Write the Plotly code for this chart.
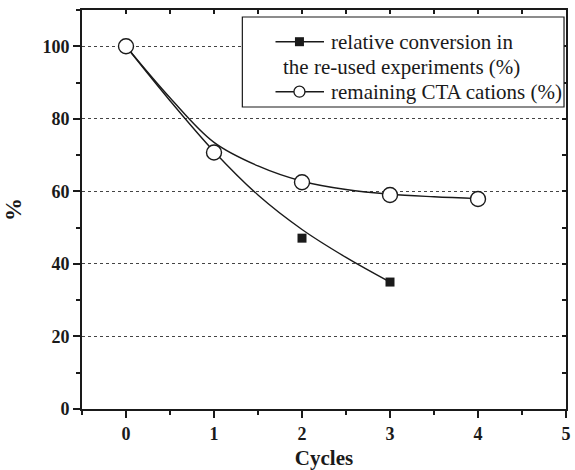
import plotly.graph_objects as go

# ---- data ----
cycles_conv = [0, 1, 2, 3]
rel_conversion = [100, 71, 47.1, 35.0]
cycles_cta = [0, 1, 2, 3, 4]
remaining_cta = [100, 70.7, 62.5, 59.0, 57.9]

# fitted curves
fit_conv_x = [0, 0.5, 1, 1.5, 2, 2.5, 3]
fit_conv_y = [100, 85, 71, 59, 49.5, 41.8, 35]
fit_cta_x = [0, 0.5, 1, 1.5, 2, 2.5, 3, 3.5, 4]
fit_cta_y = [100, 85.8, 73.5, 67, 62.8, 60.5, 59.2, 58.5, 58]

x_ticks = [0, 1, 2, 3, 4, 5]
y_ticks = [0, 20, 40, 60, 80, 100]

legend_lines = ["relative conversion in", "the re-used experiments (%)", "remaining CTA cations (%)"]

INK = "#1a1a1a"
FONT = "Times New Roman, Liberation Serif, DejaVu Serif, serif"

fig = go.Figure()

fig.add_trace(go.Scatter(x=fit_conv_x, y=fit_conv_y, mode="lines",
                         line=dict(color=INK, width=1.4, shape="spline", smoothing=1.0),
                         showlegend=False, hoverinfo="skip"))
fig.add_trace(go.Scatter(x=fit_cta_x, y=fit_cta_y, mode="lines",
                         line=dict(color=INK, width=1.4, shape="spline", smoothing=1.0),
                         showlegend=False, hoverinfo="skip"))
fig.add_trace(go.Scatter(x=cycles_conv, y=rel_conversion, mode="markers",
                         marker=dict(symbol="square", size=9, color=INK, line=dict(width=0)),
                         showlegend=False))
fig.add_trace(go.Scatter(x=cycles_cta, y=remaining_cta, mode="markers",
                         marker=dict(symbol="circle", size=15, color="white",
                                     line=dict(color=INK, width=1.4)),
                         showlegend=False))
# helper trace for mirrored inside ticks
fig.add_trace(go.Scatter(x=[None], y=[None], xaxis="x2", yaxis="y2", showlegend=False,
                         hoverinfo="skip"))

tickfont = dict(family=FONT, size=18, color=INK)

fig.update_layout(
    width=575, height=470,
    margin=dict(l=82, r=4, t=10, b=61),
    paper_bgcolor="white", plot_bgcolor="white",
    font=dict(family=FONT, color=INK),
    xaxis=dict(range=[-0.5, 5], tickvals=x_ticks, ticktext=[f"<b>{v}</b>" for v in x_ticks],
               ticks="outside", ticklen=7, tickwidth=1.8, tickcolor=INK,
               minor=dict(dtick=0.5, tick0=0, ticks="outside", ticklen=4, tickwidth=1.8, tickcolor=INK),
               showline=True, linecolor=INK, linewidth=2, mirror=True,
               showgrid=False, zeroline=False, tickfont=tickfont,
               title=dict(text="<b>Cycles</b>", font=dict(family=FONT, size=21, color=INK), standoff=8)),
    yaxis=dict(range=[0, 110], tickvals=y_ticks, ticktext=[f"<b>{v}</b>" for v in y_ticks],
               ticks="outside", ticklen=7, tickwidth=1.8, tickcolor=INK,
               minor=dict(dtick=10, tick0=0, ticks="outside", ticklen=4, tickwidth=1.8, tickcolor=INK),
               showline=True, linecolor=INK, linewidth=2, mirror=True,
               showgrid=True, gridcolor="#444", griddash="dot", gridwidth=1,
               zeroline=False, tickfont=tickfont,
               title=dict(text="<b>%</b>", font=dict(family=FONT, size=23, color=INK), standoff=14)),
    xaxis2=dict(overlaying="x", side="top", range=[-0.5, 5], tickvals=x_ticks,
                ticks="inside", ticklen=4, tickwidth=1.8, tickcolor=INK, showticklabels=False,
                minor=dict(dtick=0.5, tick0=0, ticks="inside", ticklen=4, tickwidth=1.8, tickcolor=INK),
                showgrid=False, zeroline=False, showline=False),
    yaxis2=dict(overlaying="y", side="right", range=[0, 110], tickvals=y_ticks,
                ticks="inside", ticklen=4, tickwidth=1.8, tickcolor=INK, showticklabels=False,
                minor=dict(dtick=10, tick0=0, ticks="inside", ticklen=4, tickwidth=1.8, tickcolor=INK),
                showgrid=False, zeroline=False, showline=False),
    showlegend=False,
)

# ---- custom legend (paper coordinates) ----
W, H = 489.0, 399.0
def px(xp):
    return (xp - 82) / W
def py(yp):
    return (409 - yp) / H

fig.add_shape(type="rect", xref="paper", yref="paper",
              x0=px(244), x1=px(569), y0=py(107), y1=py(17),
              line=dict(color=INK, width=1.2), fillcolor="white", layer="above")

row_y = [41.7, 66.7, 91.7]
seg_x0, seg_x1, mark_x = 277.5, 326.5, 301.7
for ry in (row_y[0], row_y[2]):
    fig.add_shape(type="line", xref="paper", yref="paper",
                  x0=px(seg_x0), x1=px(seg_x1), y0=py(ry), y1=py(ry),
                  line=dict(color=INK, width=1.4), layer="above")
fig.add_shape(type="rect", xref="paper", yref="paper", xsizemode="pixel", ysizemode="pixel",
              xanchor=px(mark_x), yanchor=py(row_y[0]), x0=-4.5, x1=4.5, y0=-4.5, y1=4.5,
              fillcolor=INK, line=dict(width=0), layer="above")
fig.add_shape(type="circle", xref="paper", yref="paper", xsizemode="pixel", ysizemode="pixel",
              xanchor=px(mark_x), yanchor=py(row_y[2]), x0=-5.5, x1=5.5, y0=-5.5, y1=5.5,
              fillcolor="white", line=dict(color=INK, width=1.3), layer="above")

text_x = [331.5, 283.0, 331.5]
for t, tx, ry in zip(legend_lines, text_x, row_y):
    fig.add_annotation(text=t, xref="paper", yref="paper", x=px(tx), y=py(ry),
                       xanchor="left", yanchor="middle", showarrow=False,
                       font=dict(family=FONT, size=21, color=INK))

fig.write_html("out.html")
